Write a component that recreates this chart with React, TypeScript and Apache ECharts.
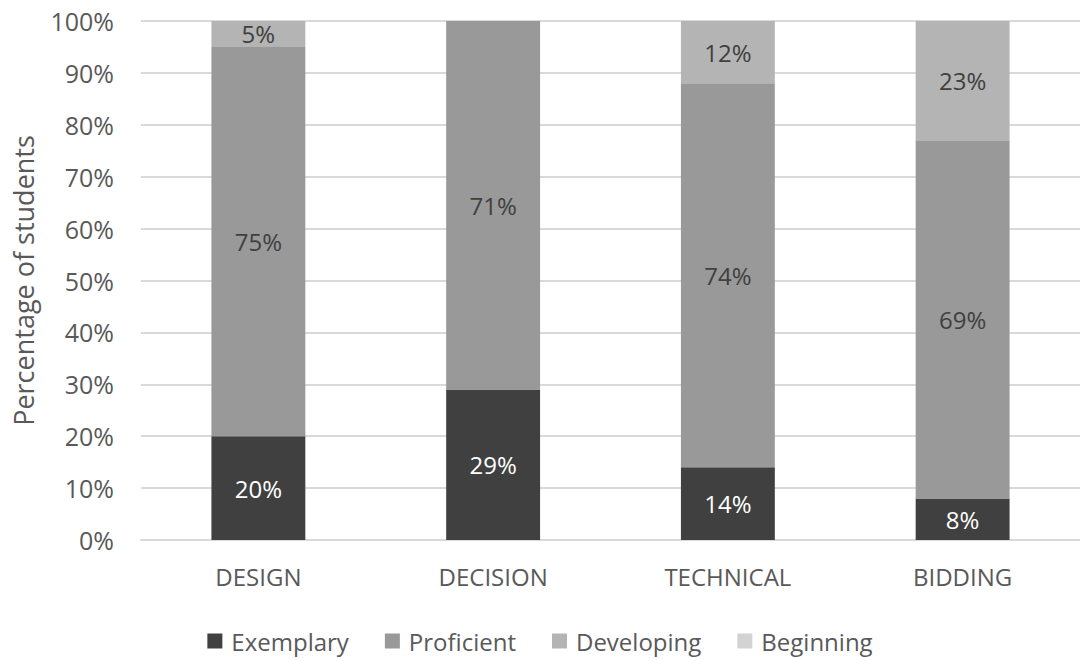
import React, { useEffect, useRef } from "react";
import * as echarts from "echarts";

const categories = ["DESIGN", "DECISION", "TECHNICAL", "BIDDING"];
const exemplary = [20, 29, 14, 8];
const proficient = [75, 71, 74, 69];
const developing = [5, 0, 12, 23];
const beginning = [0, 0, 0, 0];

const FONT = "'Open Sans', 'Noto Sans', sans-serif";
const TEXT = "#595959";

export default function App() {
  const ref = useRef<HTMLDivElement>(null);

  useEffect(() => {
    document.body.style.margin = "0";
    if (!ref.current) return;
    const chart = echarts.init(ref.current, undefined, { renderer: "svg" });

    const mk = (name: string, data: number[], color: string, labelColor: string) => ({
      name,
      type: "bar",
      stack: "total",
      data: data.map((v) => (v === 0 ? null : v)),
      barWidth: "40%",
      itemStyle: { color },
      label: {
        show: true,
        position: "inside",
        formatter: (p: any) => `${p.value}%`,
        color: labelColor,
        fontFamily: FONT,
        fontSize: 24,
      },
    });

    chart.setOption({
      animation: false,
      textStyle: { fontFamily: FONT },
      grid: { left: 141, right: -6, top: 21, bottom: 121 },
      legend: {
        data: ["Exemplary", "Proficient", "Developing", "Beginning"],
        bottom: 3,
        left: "center",
        itemWidth: 15,
        itemHeight: 15,
        itemGap: 36,
        icon: "rect",
        textStyle: { color: TEXT, fontSize: 24, fontFamily: FONT, padding: [0, 0, 0, 4] },
      },
      xAxis: {
        type: "category",
        data: categories,
        axisLine: { lineStyle: { color: "#d9d9d9", width: 2 } },
        axisTick: { show: false },
        axisLabel: { color: TEXT, fontSize: 24, fontFamily: FONT, margin: 24 },
      },
      yAxis: {
        type: "value",
        min: 0,
        max: 100,
        interval: 10,
        name: "Percentage of students",
        nameLocation: "middle",
        nameGap: 104,
        nameRotate: 90,
        nameTextStyle: { color: TEXT, fontSize: 27, fontFamily: FONT },
        axisLabel: {
          color: TEXT,
          fontSize: 25,
          fontFamily: FONT,
          margin: 27,
          formatter: "{value}%",
        },
        splitLine: { lineStyle: { color: "#d9d9d9", width: 2 } },
        axisLine: { show: false },
        axisTick: { show: false },
      },
      series: [
        mk("Exemplary", exemplary, "#404040", "#ffffff"),
        mk("Proficient", proficient, "#999999", "#404040"),
        mk("Developing", developing, "#b4b4b4", "#404040"),
        mk("Beginning", beginning, "#d3d3d3", "#404040"),
      ],
    });

    return () => chart.dispose();
  }, []);

  return <div ref={ref} style={{ width: 1080, height: 661 }} />;
}
